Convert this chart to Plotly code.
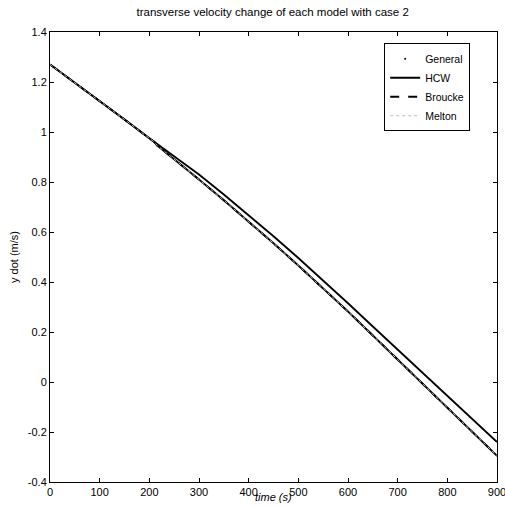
import plotly.graph_objects as go

# time samples (s)
t_general = [0, 50, 100, 150, 200, 250, 300, 350, 400, 450, 500, 550, 600, 650, 700, 750, 800, 850, 900]
y_general = [1.27, 1.197, 1.125, 1.05, 0.975, 0.903, 0.83, 0.75, 0.668, 0.583, 0.496, 0.406, 0.315, 0.222, 0.129, 0.035, -0.058, -0.15, -0.24]

t_linear = [0, 50, 100, 150, 200, 210, 216, 250, 300, 350, 400, 450, 500, 550, 600, 650, 700, 750, 800, 850, 900]
y_hcw = [1.27, 1.197, 1.125, 1.05, 0.975, 0.96, 0.946, 0.892, 0.81, 0.727, 0.642, 0.555, 0.466, 0.375, 0.282, 0.186, 0.09, -0.006, -0.102, -0.199, -0.295]
y_broucke = list(y_hcw)
y_melton = list(y_hcw)

x_ticks = [0, 100, 200, 300, 400, 500, 600, 700, 800, 900]
y_ticks = [-0.4, -0.2, 0, 0.2, 0.4, 0.6, 0.8, 1, 1.2, 1.4]
y_tick_labels = ["-0.4", "-0.2", "0", "0.2", "0.4", "0.6", "0.8", "1", "1.2", "1.4"]

FONT = "Liberation Sans, Arial"

fig = go.Figure()
# General: dense dots rendered as a solid curve; legend entry shows a dot
fig.add_trace(go.Scatter(x=t_general, y=y_general, mode="lines", line=dict(color="black", width=1.8),
                         showlegend=False, hoverinfo="skip"))
fig.add_trace(go.Scatter(x=[None], y=[None], mode="markers", name="General",
                         marker=dict(color="black", size=2)))
fig.add_trace(go.Scatter(x=t_linear, y=y_hcw, mode="lines", name="HCW",
                         line=dict(color="black", width=1.8)))
fig.add_trace(go.Scatter(x=t_linear, y=y_broucke, mode="lines", name="Broucke",
                         line=dict(color="black", width=1.8, dash="dash")))
fig.add_trace(go.Scatter(x=t_linear, y=y_melton, mode="lines", name="Melton",
                         line=dict(color="#bbbbbb", width=1, dash="dot")))

axis_common = dict(showline=True, linecolor="black", linewidth=1, mirror="ticks",
                   ticks="inside", ticklen=4, tickcolor="black", showgrid=False, zeroline=False,
                   automargin=False, ticklabeloverflow="allow",
                   tickfont=dict(family=FONT, size=11, color="black"))

fig.update_layout(
    width=505, height=508,
    margin=dict(l=50, r=8, t=32, b=26),
    paper_bgcolor="white", plot_bgcolor="white",
    title=dict(text="transverse velocity change of each model with case 2",
               x=0.54, xanchor="center", y=0.977, yanchor="middle",
               font=dict(family=FONT, size=11.5, color="black")),
    xaxis=dict(range=[0, 900], tickvals=x_ticks, **axis_common),
    yaxis=dict(range=[-0.4, 1.4], tickvals=y_ticks, ticktext=y_tick_labels,
               title=dict(text="y dot (m/s)", standoff=6,
                          font=dict(family=FONT, size=11, color="black")),
               **axis_common),
    legend=dict(x=0.94, xanchor="right", y=0.975, yanchor="top",
                bgcolor="white", bordercolor="black", borderwidth=1,
                font=dict(family=FONT, size=10.5, color="black"),
                tracegroupgap=0, itemwidth=30),
    annotations=[dict(text="<i>time (s)</i>", xref="paper", yref="paper", x=0.5, y=-0.034,
                      xanchor="center", yanchor="middle", showarrow=False,
                      font=dict(family=FONT, size=11, color="black"))],
)

fig.write_html("out.html")
